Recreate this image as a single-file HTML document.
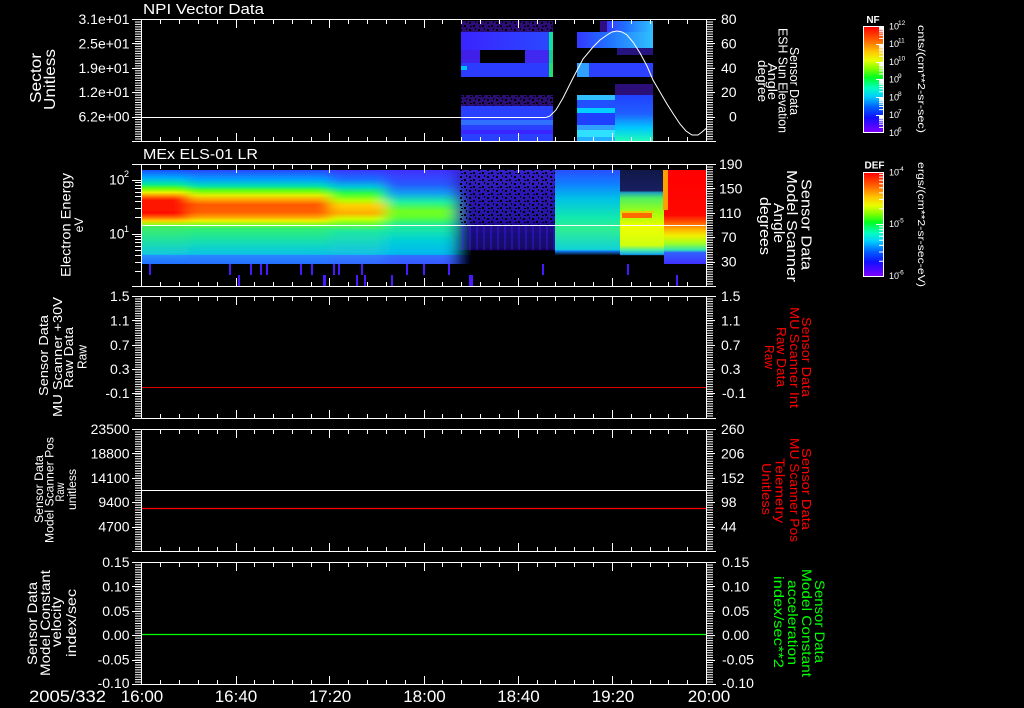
<!DOCTYPE html>
<html><head><meta charset="utf-8">
<style>
html,body{margin:0;padding:0;background:#000;width:1024px;height:708px;overflow:hidden}
svg{display:block}
text{font-family:"Liberation Sans",sans-serif;fill:#fff}
</style></head><body>
<svg width="1024" height="708" viewBox="0 0 1024 708" xmlns="http://www.w3.org/2000/svg">
<rect width="1024" height="708" fill="#000"/>
<defs>
<linearGradient id="cb" x1="0" y1="0" x2="0" y2="1">
<stop offset="0" stop-color="#ff0000"/><stop offset=".12" stop-color="#ff5a00"/><stop offset=".24" stop-color="#ffc800"/><stop offset=".32" stop-color="#e8ff00"/><stop offset=".4" stop-color="#80ff00"/><stop offset=".48" stop-color="#00ff20"/><stop offset=".58" stop-color="#00ffc0"/><stop offset=".66" stop-color="#00d0ff"/><stop offset=".76" stop-color="#0060ff"/><stop offset=".86" stop-color="#1010ff"/><stop offset="1" stop-color="#8000ff"/>
</linearGradient>
<linearGradient id="g1" x1="0" y1="0" x2="0" y2="1">
<stop offset="0" stop-color="#1a50ff"/><stop offset=".08" stop-color="#00a8ff"/><stop offset=".15" stop-color="#00e8a0"/><stop offset=".2" stop-color="#70ff00"/><stop offset=".24" stop-color="#f0f000"/><stop offset=".28" stop-color="#ff8000"/><stop offset=".32" stop-color="#ff1800"/><stop offset=".46" stop-color="#ff1000"/><stop offset=".5" stop-color="#ff6000"/><stop offset=".54" stop-color="#ffd000"/><stop offset=".58" stop-color="#90ff10"/><stop offset=".6" stop-color="#40f060"/><stop offset=".75" stop-color="#20e0a0"/><stop offset=".9" stop-color="#10c8e0"/><stop offset=".905" stop-color="#2890ff"/><stop offset="1" stop-color="#2070ff"/>
</linearGradient>
<linearGradient id="g2" x1="0" y1="0" x2="0" y2="1">
<stop offset="0" stop-color="#2848ff"/><stop offset=".1" stop-color="#00a0ff"/><stop offset=".17" stop-color="#00e0b0"/><stop offset=".22" stop-color="#60ff10"/><stop offset=".27" stop-color="#e0f000"/><stop offset=".32" stop-color="#ffa000"/><stop offset=".37" stop-color="#ff5800"/><stop offset=".45" stop-color="#ff6000"/><stop offset=".5" stop-color="#ffa000"/><stop offset=".54" stop-color="#f0f000"/><stop offset=".58" stop-color="#80ff20"/><stop offset=".62" stop-color="#30f070"/><stop offset=".8" stop-color="#10d8c0"/><stop offset=".9" stop-color="#10c0e8"/><stop offset=".905" stop-color="#2888ff"/><stop offset="1" stop-color="#2870ff"/>
</linearGradient>
<linearGradient id="g3" x1="0" y1="0" x2="0" y2="1">
<stop offset="0" stop-color="#3838ff"/><stop offset=".1" stop-color="#1870ff"/><stop offset=".18" stop-color="#00c8d8"/><stop offset=".25" stop-color="#30ff40"/><stop offset=".32" stop-color="#b0ff00"/><stop offset=".38" stop-color="#ffd000"/><stop offset=".46" stop-color="#ffb000"/><stop offset=".52" stop-color="#d0ff00"/><stop offset=".58" stop-color="#60ff30"/><stop offset=".65" stop-color="#20e8a0"/><stop offset=".9" stop-color="#10c0e8"/><stop offset=".905" stop-color="#3080ff"/><stop offset="1" stop-color="#3068ff"/>
</linearGradient>
<linearGradient id="g4" x1="0" y1="0" x2="0" y2="1">
<stop offset="0" stop-color="#4030ff"/><stop offset=".15" stop-color="#2858ff"/><stop offset=".25" stop-color="#10a0f0"/><stop offset=".34" stop-color="#20f0a0"/><stop offset=".44" stop-color="#70ff20"/><stop offset=".5" stop-color="#60ff30"/><stop offset=".58" stop-color="#20f090"/><stop offset=".75" stop-color="#00d0d8"/><stop offset=".9" stop-color="#00b8f0"/><stop offset=".905" stop-color="#3070ff"/><stop offset="1" stop-color="#3858ff"/>
</linearGradient>
<linearGradient id="g5" x1="0" y1="0" x2="0" y2="1">
<stop offset="0" stop-color="#3420c8"/><stop offset=".3" stop-color="#2a16b0"/><stop offset=".58" stop-color="#2410a0"/><stop offset=".6" stop-color="#1c0c88"/><stop offset=".85" stop-color="#120660"/><stop offset=".86" stop-color="#000"/><stop offset="1" stop-color="#000"/>
</linearGradient>
<linearGradient id="g6" x1="0" y1="0" x2="0" y2="1">
<stop offset="0" stop-color="#2850ff"/><stop offset=".15" stop-color="#1080ff"/><stop offset=".3" stop-color="#00c0e8"/><stop offset=".5" stop-color="#10e8b0"/><stop offset=".62" stop-color="#30f090"/><stop offset=".85" stop-color="#10d0d8"/><stop offset=".86" stop-color="#1080ff"/><stop offset=".91" stop-color="#000"/><stop offset="1" stop-color="#000"/>
</linearGradient>
<linearGradient id="g7" x1="0" y1="0" x2="0" y2="1">
<stop offset="0" stop-color="#101848"/><stop offset=".22" stop-color="#181e60"/><stop offset=".24" stop-color="#20a0c0"/><stop offset=".3" stop-color="#50f060"/><stop offset=".45" stop-color="#a0ff10"/><stop offset=".55" stop-color="#d0ff00"/><stop offset=".6" stop-color="#f0ff00"/><stop offset=".8" stop-color="#d0ff10"/><stop offset=".85" stop-color="#50f0a0"/><stop offset=".9" stop-color="#10a0f0"/><stop offset=".91" stop-color="#000"/><stop offset="1" stop-color="#000"/>
</linearGradient>
<linearGradient id="g8" x1="0" y1="0" x2="0" y2="1">
<stop offset="0" stop-color="#ff0000"/><stop offset=".48" stop-color="#ff0800"/><stop offset=".55" stop-color="#ff5000"/><stop offset=".63" stop-color="#ffb000"/><stop offset=".7" stop-color="#f0f000"/><stop offset=".78" stop-color="#a0ff20"/><stop offset=".85" stop-color="#30e8b0"/><stop offset=".88" stop-color="#3060ff"/><stop offset="1" stop-color="#4030ff"/>
</linearGradient>
<linearGradient id="bA" x1="0" y1="0" x2="1" y2="0"><stop offset="0" stop-color="#3a24ff"/><stop offset="1" stop-color="#2a48ff"/></linearGradient>
<linearGradient id="bB1" x1="0" y1="0" x2="1" y2="0"><stop offset="0" stop-color="#3438ff"/><stop offset=".4" stop-color="#2070ff"/><stop offset="1" stop-color="#30c0ff"/></linearGradient>
<linearGradient id="bB2" x1="0" y1="0" x2="0" y2="1"><stop offset="0" stop-color="#2040ff"/><stop offset=".4" stop-color="#2060ff"/><stop offset=".7" stop-color="#00c8ff"/><stop offset="1" stop-color="#20ffb0"/></linearGradient>
<pattern id="spk" x="0" y="0" width="9" height="7" patternUnits="userSpaceOnUse">
<rect x="1" y="1" width="2" height="2" fill="#000"/><rect x="5" y="4" width="2" height="2" fill="#000"/><rect x="7" y="0" width="1" height="2" fill="#000"/><rect x="2" y="5" width="2" height="1" fill="#000"/>
</pattern>
<pattern id="pbar" x="0" y="0" width="7" height="12" patternUnits="userSpaceOnUse">
<rect x="0" y="0" width="2" height="12" fill="#4a18ff"/>
</pattern>
<filter id="hb" x="-5%" y="0" width="110%" height="100%"><feGaussianBlur stdDeviation="7 0"/></filter>
<clipPath id="c2"><rect x="142" y="170" width="413" height="94"/></clipPath>
<path id="tt" d="M160.5 0v5M179.5 0v5M198.5 0v5M217.5 0v5M254.5 0v5M273.5 0v5M292.5 0v5M311.5 0v5M348.5 0v5M367.5 0v5M386.5 0v5M405.5 0v5M442.5 0v5M461.5 0v5M480.5 0v5M499.5 0v5M537.5 0v5M555.5 0v5M574.5 0v5M593.5 0v5M631.5 0v5M650.5 0v5M668.5 0v5M687.5 0v5M236.5 0v9M329.5 0v9M424.5 0v9M518.5 0v9M612.5 0v9" stroke="#fff" stroke-width="1"/>
<path id="ru" d="M0 .5h6m-6 2.44h6m-6 2.44h6m-6 2.44h6m-6 2.44h6m-6 2.44h6m-6 2.44h6m-6 2.44h6m-6 2.44h6m-6 2.44h6m-6 2.44h6m-6 2.44h6m-6 2.44h6m-6 2.44h6m-6 2.44h6m-6 2.44h6m-6 2.44h6m-6 2.44h6m-6 2.44h6m-6 2.44h6m-6 2.44h6m-6 2.44h6m-6 2.44h6m-6 2.44h6m-6 2.44h6m-6 2.44h6m-6 2.44h6m-6 2.44h6m-6 2.44h6m-6 2.44h6m-6 2.44h6m-6 2.44h6m-6 2.44h6m-6 2.44h6m-6 2.44h6m-6 2.44h6m-6 2.44h6m-6 2.44h6m-6 2.44h6m-6 2.44h6m-6 2.44h6m-6 2.44h6m-6 2.44h6m-6 2.44h6m-6 2.44h6m-6 2.44h6m-6 2.44h6m-6 2.44h6m-6 2.44h6m-6 2.44h6" stroke="#fff" stroke-width="1"/>
<path id="cn" d="M0 -5.4h4M0 -8.5h4M0 -10.7h4M0 -12.4h4M0 -13.9h4M0 -15h4M0 -16.1h4M0 -17h4" stroke="#fff" stroke-width="1"/>
<path id="cd" d="M0 -15.8h4M0 -25h4M0 -31.6h4M0 -36.7h4M0 -40.8h4M0 -44.4h4M0 -47.4h4M0 -50.1h4" stroke="#fff" stroke-width="1"/>
</defs>

<!-- ===== Panel 1 data ===== -->
<g>
<rect x="461" y="21" width="92" height="11" fill="#5018d8" opacity=".55"/>
<rect x="461" y="21" width="92" height="11" fill="url(#spk)"/>
<rect x="461" y="32" width="88" height="18" fill="url(#bA)"/>
<rect x="549" y="32" width="4" height="18" fill="#10e0a0"/>
<rect x="461" y="50" width="19" height="13" fill="#4020e8"/>
<rect x="525" y="50" width="24" height="13" fill="#4028f0"/>
<rect x="549" y="50" width="4" height="13" fill="#10d090"/>
<rect x="461" y="63" width="88" height="14" fill="#2c3cff"/>
<rect x="461" y="66" width="6" height="4" fill="#00c0ff"/>
<rect x="549" y="63" width="4" height="14" fill="#20e070"/>
<rect x="461" y="95" width="92" height="11" fill="#4818c0" opacity=".6"/>
<rect x="461" y="95" width="92" height="11" fill="url(#spk)"/>
<rect x="461" y="106" width="92" height="36" fill="#2a40ff"/>
<rect x="461" y="120" width="92" height="5" fill="#3070ff"/>
<rect x="461" y="130" width="92" height="4" fill="#3a24ff"/>

<rect x="600" y="21" width="7" height="11" fill="#5018d8" opacity=".6"/>
<rect x="607" y="21" width="46" height="11" fill="url(#bB1)"/>
<rect x="577" y="32" width="76" height="16" fill="url(#bB1)"/>
<rect x="617" y="48" width="36" height="7" fill="#4020d0" opacity=".6"/>
<rect x="577" y="63" width="76" height="14" fill="#2c40ff"/>
<rect x="577" y="63" width="12" height="14" fill="#30a0ff"/>
<rect x="615" y="84" width="38" height="11" fill="#4818c8" opacity=".6"/>
<rect x="577" y="95" width="38" height="5" fill="#30c0ff"/>
<rect x="577" y="100" width="38" height="8" fill="#2050ff"/>
<rect x="577" y="108" width="38" height="5" fill="#00d0ff"/>
<rect x="577" y="113" width="38" height="12" fill="#2040ff"/>
<rect x="577" y="125" width="38" height="5" fill="#30a0ff"/>
<rect x="577" y="130" width="38" height="7" fill="#30e0ff"/>
<rect x="577" y="137" width="38" height="5" fill="#20b0ff"/>
<rect x="615" y="95" width="38" height="47" fill="url(#bB2)"/>
<polyline points="142,117.5 546,117.5 550,116 556,110 563,98 573,78 583,59 593,47 600,40 607,35 612,32 617,31 622,32 627,35 633,42 640,53 647,66 653,80 660,92 667,104 674,115 680,124 686,131 692,135 698,135 702,132 706,128.5" fill="none" stroke="#fff" stroke-width="1"/>
</g>

<!-- ===== Panel 2 data ===== -->
<g>
<g clip-path="url(#c2)">
<g filter="url(#hb)">
<rect x="110" y="170" width="78" height="94" fill="url(#g1)"/>
<rect x="188" y="170" width="142" height="94" fill="url(#g2)"/>
<rect x="330" y="170" width="55" height="94" fill="url(#g3)"/>
<rect x="385" y="170" width="70" height="94" fill="url(#g4)"/>
<rect x="455" y="170" width="130" height="94" fill="url(#g5)"/>
</g>
</g>
<rect x="458" y="170" width="97" height="55" fill="url(#spk)"/>
<rect x="458" y="226" width="97" height="24" fill="url(#pbar)" opacity=".35"/>
<rect x="555" y="170" width="65" height="94" fill="url(#g6)"/>
<rect x="620" y="170" width="44" height="94" fill="url(#g7)"/>
<rect x="664" y="170" width="42" height="94" fill="url(#g8)"/>
<rect x="663" y="170" width="5" height="40" fill="#ffa000"/>
<rect x="622" y="213" width="30" height="5" fill="#ff6a00"/>
<rect x="620" y="211" width="34" height="2" fill="#ffc000" opacity=".7"/>
<g fill="#4a18ff">
<rect x="149" y="264" width="2" height="11"/><rect x="229" y="264" width="2" height="11"/><rect x="250" y="264" width="2" height="11"/><rect x="260" y="264" width="2" height="11"/><rect x="266" y="264" width="2" height="11"/><rect x="300" y="264" width="2" height="11"/><rect x="311" y="264" width="2" height="11"/><rect x="333" y="264" width="2" height="11"/><rect x="338" y="264" width="2" height="11"/><rect x="361" y="264" width="2" height="11"/><rect x="406" y="264" width="2" height="11"/><rect x="423" y="264" width="2" height="11"/><rect x="448" y="264" width="2" height="11"/><rect x="542" y="264" width="2" height="11"/><rect x="627" y="264" width="2" height="11"/>
<rect x="238" y="275" width="2" height="11"/><rect x="323" y="275" width="3" height="11"/><rect x="356" y="275" width="2" height="11"/><rect x="364" y="275" width="2" height="11"/><rect x="391" y="275" width="2" height="11"/><rect x="469" y="275" width="4" height="11"/><rect x="676" y="275" width="2" height="11"/>
</g>
<line x1="142" y1="225.5" x2="706" y2="225.5" stroke="#fff" stroke-width="1"/>
</g>

<!-- ===== Panels 3-5 data ===== -->
<line x1="142" y1="387.5" x2="706" y2="387.5" stroke="#e00000" stroke-width="1"/>
<line x1="142" y1="490.5" x2="706" y2="490.5" stroke="#fff" stroke-width="1"/>
<line x1="142" y1="508.5" x2="706" y2="508.5" stroke="#ff0000" stroke-width="1.3"/>
<line x1="142" y1="634.5" x2="706" y2="634.5" stroke="#00ff00" stroke-width="1.3"/>

<!-- ===== Frames ===== -->
<g stroke="#fff" stroke-width="1" fill="none">
<path d="M132 19.5H716M132 141.5H716M132 164.5H716M132 286.5H716M132 296.5H716M132 418.5H716M132 429.5H716M132 551.5H716M132 562.5H716M132 684.5H716"/>
<path d="M141.5 19V142M706.5 19V142M141.5 164V287M706.5 164V287M141.5 296V419M706.5 296V419M141.5 429V552M706.5 429V552M141.5 562V685M706.5 562V685"/>
<path d="M132 43.5h9M132 68.5h9M132 92.5h9M132 117.5h9 M132 180.5h9M132 234.5h9 M132 320.5h9M132 345.5h9M132 369.5h9M132 393.5h9 M132 453.5h9M132 478.5h9M132 502.5h9M132 527.5h9 M132 586.5h9M132 611.5h9M132 635.5h9M132 660.5h9"/>
<path d="M135 182.5h6M135 185.5h6M135 188.5h6M135 192.5h6M135 196.5h6M135 201.5h6M135 208.5h6M135 217.5h6M135 236.5h6M135 239.5h6M135 242.5h6M135 246.5h6M135 250.5h6M135 255.5h6M135 262.5h6M135 271.5h6"/>
<path d="M707 43.5h8M707 68.5h8M707 92.5h8M707 117.5h8 M707 188.5h8M707 213.5h8M707 237.5h8M707 262.5h8 M707 320.5h8M707 345.5h8M707 369.5h8M707 393.5h8 M707 453.5h8M707 478.5h8M707 502.5h8M707 527.5h8 M707 586.5h8M707 611.5h8M707 635.5h8M707 660.5h8"/>
</g>
<use href="#ru" transform="translate(135,19)"/>
<use href="#ru" transform="translate(135,296)"/>
<use href="#ru" transform="translate(135,429)"/>
<use href="#ru" transform="translate(135,562)"/>
<use href="#ru" transform="translate(707,19)"/>
<use href="#ru" transform="translate(707,164)"/>
<use href="#ru" transform="translate(707,296)"/>
<use href="#ru" transform="translate(707,429)"/>
<use href="#ru" transform="translate(707,562)"/>
<use href="#tt" transform="translate(0,19)"/>
<use href="#tt" transform="translate(0,142) scale(1,-1)"/>
<use href="#tt" transform="translate(0,164)"/>
<use href="#tt" transform="translate(0,287) scale(1,-1)"/>
<use href="#tt" transform="translate(0,296)"/>
<use href="#tt" transform="translate(0,419) scale(1,-1)"/>
<use href="#tt" transform="translate(0,429)"/>
<use href="#tt" transform="translate(0,552) scale(1,-1)"/>
<use href="#tt" transform="translate(0,562)"/>
<use href="#tt" transform="translate(0,685) scale(1,-1)"/>

<!-- ===== Titles ===== -->
<text x="143" y="14" font-size="15" textLength="121" lengthAdjust="spacingAndGlyphs">NPI Vector Data</text>
<text x="143" y="159" font-size="15" textLength="115" lengthAdjust="spacingAndGlyphs">MEx ELS-01 LR</text>

<!-- ===== Left tick labels ===== -->
<g font-size="14" text-anchor="end">
<text x="129.5" y="24">3.1e+01</text><text x="129.5" y="48.5">2.5e+01</text><text x="129.5" y="73">1.9e+01</text><text x="129.5" y="97">1.2e+01</text><text x="129.5" y="121.5">6.2e+00</text>
<text x="129.5" y="301">1.5</text><text x="129.5" y="325.5">1.1</text><text x="129.5" y="350">0.7</text><text x="129.5" y="374">0.3</text><text x="129.5" y="398">-0.1</text>
<text x="129.5" y="434">23500</text><text x="129.5" y="458.5">18800</text><text x="129.5" y="483">14100</text><text x="129.5" y="507">9400</text><text x="129.5" y="531.5">4700</text>
<text x="129.5" y="567">0.15</text><text x="129.5" y="591.5">0.10</text><text x="129.5" y="616">0.05</text><text x="129.5" y="640">0.00</text><text x="129.5" y="664.5">-0.05</text><text x="129.5" y="688">-0.10</text>
</g>
<g font-size="14">
<text x="109" y="184.5">10</text><text x="124" y="177" font-size="9">2</text>
<text x="109" y="238.5">10</text><text x="124" y="232" font-size="9">1</text>
</g>

<!-- ===== Right tick labels ===== -->
<g font-size="14">
<text x="721" y="24">80</text><text x="721" y="48.5">60</text><text x="721" y="73">40</text><text x="721" y="97">20</text><text x="729" y="121.5">0</text>
<text x="719" y="169">190</text><text x="719" y="193.5">150</text><text x="719" y="218">110</text><text x="721" y="242">70</text><text x="721" y="266.5">30</text>
<text x="721" y="301">1.5</text><text x="721" y="325.5">1.1</text><text x="721" y="350">0.7</text><text x="721" y="374">0.3</text><text x="722" y="398">-0.1</text>
<text x="721" y="434">260</text><text x="721" y="458.5">206</text><text x="721" y="483">152</text><text x="721" y="507">98</text><text x="721" y="531.5">44</text>
<text x="722" y="567">0.15</text><text x="722" y="591.5">0.10</text><text x="722" y="616">0.05</text><text x="722" y="640">0.00</text><text x="722" y="664.5">-0.05</text><text x="722" y="688">-0.10</text>
</g>

<!-- ===== Time axis ===== -->
<g font-size="17">
<text x="29" y="702" textLength="77" lengthAdjust="spacingAndGlyphs">2005/332</text>
<g text-anchor="middle">
<text x="142" y="702">16:00</text><text x="236" y="702">16:40</text><text x="330" y="702">17:20</text><text x="424.5" y="702">18:00</text><text x="518.5" y="702">18:40</text><text x="613" y="702">19:20</text><text x="709" y="702">20:00</text>
</g>
</g>

<!-- ===== Left axis titles ===== -->
<g text-anchor="middle">
<text transform="translate(41,78) rotate(-90)" font-size="16" textLength="50" lengthAdjust="spacingAndGlyphs">Sector</text>
<text transform="translate(55,79.5) rotate(-90)" font-size="16" textLength="61" lengthAdjust="spacingAndGlyphs">Unitless</text>

<text transform="translate(70.5,225) rotate(-90)" font-size="14" textLength="104" lengthAdjust="spacingAndGlyphs">Electron Energy</text>
<text transform="translate(83,225) rotate(-90)" font-size="12">eV</text>

<text transform="translate(48,355.5) rotate(-90)" font-size="13" textLength="81" lengthAdjust="spacingAndGlyphs">Sensor Data</text>
<text transform="translate(62,357) rotate(-90)" font-size="13" textLength="120" lengthAdjust="spacingAndGlyphs">MU Scanner +30V</text>
<text transform="translate(73,357.5) rotate(-90)" font-size="13" textLength="61" lengthAdjust="spacingAndGlyphs">Raw Data</text>
<text transform="translate(86.5,357) rotate(-90)" font-size="13" textLength="24" lengthAdjust="spacingAndGlyphs">Raw</text>

<text transform="translate(43,489) rotate(-90)" font-size="11.5" textLength="68" lengthAdjust="spacingAndGlyphs">Sensor Data</text>
<text transform="translate(53.5,490) rotate(-90)" font-size="11.5" textLength="106" lengthAdjust="spacingAndGlyphs">Model Scanner Pos</text>
<text transform="translate(64,492) rotate(-90)" font-size="11.5" textLength="19" lengthAdjust="spacingAndGlyphs">Raw</text>
<text transform="translate(76,489.5) rotate(-90)" font-size="11.5" textLength="41" lengthAdjust="spacingAndGlyphs">unitless</text>

<text transform="translate(37,623.5) rotate(-90)" font-size="14" textLength="83" lengthAdjust="spacingAndGlyphs">Sensor Data</text>
<text transform="translate(50,623) rotate(-90)" font-size="14" textLength="106" lengthAdjust="spacingAndGlyphs">Model Constant</text>
<text transform="translate(61,622) rotate(-90)" font-size="14" textLength="50" lengthAdjust="spacingAndGlyphs">velocity</text>
<text transform="translate(76,623) rotate(-90)" font-size="14" textLength="68" lengthAdjust="spacingAndGlyphs">index/sec</text>
</g>

<!-- ===== Right axis titles ===== -->
<g text-anchor="middle">
<text transform="translate(790,81) rotate(90)" font-size="13" textLength="68" lengthAdjust="spacingAndGlyphs">Sensor Data</text>
<text transform="translate(778.5,80.5) rotate(90)" font-size="13" textLength="105" lengthAdjust="spacingAndGlyphs">ESH Sun Elevation</text>
<text transform="translate(768,81.5) rotate(90)" font-size="13" textLength="37" lengthAdjust="spacingAndGlyphs">Angle</text>
<text transform="translate(758,81) rotate(90)" font-size="13" textLength="42" lengthAdjust="spacingAndGlyphs">degree</text>

<text transform="translate(801.5,224.5) rotate(90)" font-size="15" textLength="91" lengthAdjust="spacingAndGlyphs">Sensor Data</text>
<text transform="translate(787,226) rotate(90)" font-size="15" textLength="112" lengthAdjust="spacingAndGlyphs">Model Scanner</text>
<text transform="translate(774,223) rotate(90)" font-size="15" textLength="40" lengthAdjust="spacingAndGlyphs">Angle</text>
<text transform="translate(760,226) rotate(90)" font-size="15" textLength="58" lengthAdjust="spacingAndGlyphs">degrees</text>

<text transform="translate(802,357) rotate(90)" font-size="13" textLength="80" lengthAdjust="spacingAndGlyphs" style="fill:#ff0000">Sensor Data</text>
<text transform="translate(790,357.5) rotate(90)" font-size="13" textLength="101" lengthAdjust="spacingAndGlyphs" style="fill:#ff0000">MU Scanner Int</text>
<text transform="translate(777,357) rotate(90)" font-size="13" textLength="60" lengthAdjust="spacingAndGlyphs" style="fill:#ff0000">Raw Data</text>
<text transform="translate(765,357) rotate(90)" font-size="13" textLength="24" lengthAdjust="spacingAndGlyphs" style="fill:#ff0000">Raw</text>

<text transform="translate(802,489) rotate(90)" font-size="13" textLength="82" lengthAdjust="spacingAndGlyphs" style="fill:#ff0000">Sensor Data</text>
<text transform="translate(790,490) rotate(90)" font-size="13" textLength="104" lengthAdjust="spacingAndGlyphs" style="fill:#ff0000">MU Scanner Pos</text>
<text transform="translate(775.5,490.5) rotate(90)" font-size="13" textLength="65" lengthAdjust="spacingAndGlyphs" style="fill:#ff0000">Telemetry</text>
<text transform="translate(762,489) rotate(90)" font-size="13" textLength="52" lengthAdjust="spacingAndGlyphs" style="fill:#ff0000">Unitless</text>

<text transform="translate(815,621.5) rotate(90)" font-size="14" textLength="83" lengthAdjust="spacingAndGlyphs" style="fill:#00ff00">Sensor Data</text>
<text transform="translate(802,623) rotate(90)" font-size="14" textLength="108" lengthAdjust="spacingAndGlyphs" style="fill:#00ff00">Model Constant</text>
<text transform="translate(788,622.5) rotate(90)" font-size="14" textLength="85" lengthAdjust="spacingAndGlyphs" style="fill:#00ff00">acceleration</text>
<text transform="translate(774,622) rotate(90)" font-size="14" textLength="92" lengthAdjust="spacingAndGlyphs" style="fill:#00ff00">index/sec**2</text>
</g>

<!-- ===== Colorbars ===== -->
<rect x="863.5" y="26.5" width="20" height="106" fill="url(#cb)" stroke="#fff" stroke-width="1"/>
<rect x="863.5" y="172.5" width="20" height="104" fill="url(#cb)" stroke="#fff" stroke-width="1"/>
<use href="#cn" transform="translate(879,132.8)"/>
<use href="#cn" transform="translate(879,115)"/>
<use href="#cn" transform="translate(879,97.2)"/>
<use href="#cn" transform="translate(879,79.4)"/>
<use href="#cn" transform="translate(879,61.6)"/>
<use href="#cn" transform="translate(879,43.8)"/>
<path d="M876 44.5h7M876 62.5h7M876 79.5h7M876 97.5h7M876 115.5h7M876 224.5h7" stroke="#fff" stroke-width="1"/>
<use href="#cd" transform="translate(879,277)"/>
<use href="#cd" transform="translate(879,224.5)"/>
<text x="873" y="23" font-size="10" font-weight="bold" text-anchor="middle">NF</text>
<text x="874.5" y="168.5" font-size="10" font-weight="bold" text-anchor="middle">DEF</text>
<g font-size="9">
<text x="889" y="29.5">10</text><text x="898" y="25" font-size="6.5">12</text>
<text x="889" y="47">10</text><text x="898" y="42.5" font-size="6.5">11</text>
<text x="889" y="65">10</text><text x="898" y="60.5" font-size="6.5">10</text>
<text x="889" y="82.5">10</text><text x="898" y="78" font-size="6.5">9</text>
<text x="889" y="100.5">10</text><text x="898" y="96" font-size="6.5">8</text>
<text x="889" y="118">10</text><text x="898" y="113.5" font-size="6.5">7</text>
<text x="889" y="136">10</text><text x="898" y="131.5" font-size="6.5">6</text>
<text x="889" y="175.5">10</text><text x="898" y="171" font-size="6.5">-4</text>
<text x="889" y="227">10</text><text x="898" y="222.5" font-size="6.5">-5</text>
<text x="889" y="279">10</text><text x="898" y="274.5" font-size="6.5">-6</text>
</g>
<text transform="translate(918,79) rotate(90)" font-size="10.5" text-anchor="middle" textLength="108" lengthAdjust="spacingAndGlyphs">cnts/(cm**2-sr-sec)</text>
<text transform="translate(918,224.5) rotate(90)" font-size="10.5" text-anchor="middle" textLength="125" lengthAdjust="spacingAndGlyphs">ergs/(cm**2-sr-sec-eV)</text>
</svg>
</body></html>
